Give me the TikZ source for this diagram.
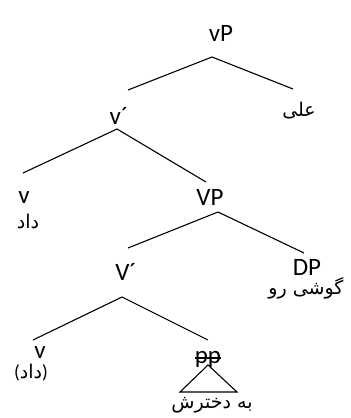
\documentclass[tikz,border=0pt]{standalone}
\usepackage{fontspec}
\setmainfont{Carlito}
\newfontfamily\arabicfont[Script=Arabic]{DejaVu Sans}
\TeXXeTstate=1
\begin{document}
\begin{tikzpicture}[x=1pt,y=-1pt,
  lab/.style={inner sep=0pt,font=\fontsize{25}{25}\selectfont},
  fa/.style={inner sep=0pt,font=\arabicfont\fontsize{19}{19}\selectfont},
  br/.style={line width=1.1pt}]
\useasboundingbox[fill=white] (0,0) rectangle (351,418);
% labels
\node[lab] (vP) at (221,33) {vP};
\node[fa] (ali) at (299,111) {\beginR علی\endR};
\node[lab] (vbar) at (119,116) {v´};
\node[lab] (v1) at (24,198) {v};
\node[fa] (dad1) at (28,221) {\beginR داد\endR};
\node[lab] (VP) at (210,197) {VP};
\node[lab] (Vbar) at (126,272) {V´};
\node[lab] (DP) at (307,267) {DP};
\node[fa] (gushi) at (306,288) {\beginR گوشی رو\endR};
\node[lab] (v2) at (40,353) {v};
\node[fa] (dad2) at (31,373) {{\normalfont(}\beginR داد\endR{\normalfont)}};
\node[lab,anchor=base] (pp) at (208,363) {pp};
\node[fa] (dokht) at (212,405) {\beginR به دخترش\endR};
% strike through pp
\draw[br] (pp.west |- 0,358) -- (pp.east |- 0,358);
% branch points
\coordinate (a1) at (212,57); \coordinate (l1) at (128,90); \coordinate (r1) at (293,89);
\coordinate (a2) at (117,129); \coordinate (l2) at (23,173); \coordinate (r2) at (206,182);
\coordinate (a3) at (218,212); \coordinate (l3) at (128,248); \coordinate (r3) at (304,253);
\coordinate (a4) at (122,297); \coordinate (l4) at (33,340); \coordinate (r4) at (208,340);
\coordinate (t1) at (208,365); \coordinate (t2) at (180,392); \coordinate (t3) at (237,392);
\draw[br] (l1) -- (a1) -- (r1);
\draw[br] (l2) -- (a2) -- (r2);
\draw[br] (l3) -- (a3) -- (r3);
\draw[br] (l4) -- (a4) -- (r4);
\draw[br] (t1) -- (t2) -- (t3) -- cycle;
\end{tikzpicture}
\end{document}
